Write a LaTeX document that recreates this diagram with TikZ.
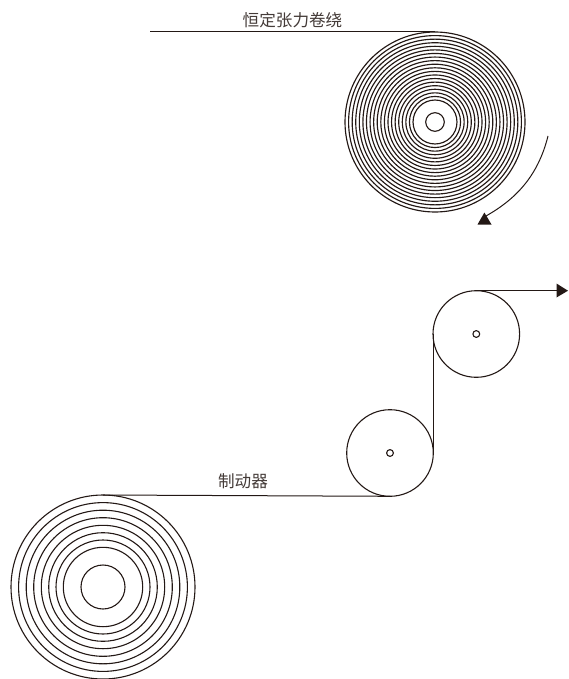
\documentclass[tikz,border=0pt]{standalone}
\usepackage{fontspec}
\newfontfamily\cjk{Noto Sans CJK SC}
\usetikzlibrary{calc}
\definecolor{ink}{HTML}{231815}
\tikzset{
  x=1pt,y=-1pt,
  ring/.style={circle,draw=ink,line width=#1,inner sep=0pt,outer sep=0pt,fill=none},
  ring/.default=1.1pt,
  web/.style={draw=ink,line width=1pt},
  label/.style={font=\cjk\fontsize{16.6}{17}\selectfont,text=ink!85!white,inner sep=0pt},
  tip/.style={fill=ink,draw=none}
}
\begin{document}
\begin{tikzpicture}
\useasboundingbox (0,0) rectangle (568,679);
% top (wind-up) reel
\coordinate (topc) at (435,122);
\foreach \i in {0,...,19}{
  \node[ring=1.15pt,minimum size={2*(90-3.58*\i)*1pt}] at (topc) {};
}
\node[ring,minimum size=18.6pt] (topcore) at (topc) {};
\node[ring=0pt,draw=none,minimum size=180pt] (topreel) at (topc) {};
\coordinate (topstart) at (150,32);
\draw[web] (topstart) -- (topreel.north);
\node[label] (toplabel) at (292.5,20) {恒定张力卷绕};
% rotation arrow
\coordinate (rotstart) at (548,136);
\coordinate (rotend) at (486,216);
\draw[web] (rotstart) .. controls (538,176) and (516,199) .. (rotend);
\fill[tip] (477.5,224.5) -- (491.5,224.5) -- (484.4,212.5) -- cycle;
% rollers
\node[ring,minimum size=86.6pt] (upper) at (476.3,334) {};
\node[ring,minimum size=6.8pt] (upperaxis) at (476.3,334) {};
\node[ring,minimum size=86.6pt] (lower) at (390,453) {};
\node[ring,minimum size=6.8pt] (loweraxis) at (390,453) {};
\draw[web] (lower.east) -- (lower.east |- upper.west);
% supply reel
\coordinate (botc) at (103,587);
\foreach \r in {92,84.4,76.8,69.3,61.7,54.3,47,39.7}{
  \node[ring,minimum size={2*\r*1pt}] at (botc) {};
}
\node[ring,minimum size=44pt] (botcore) at (botc) {};
\node[ring=0pt,draw=none,minimum size=184pt] (botreel) at (botc) {};
\draw[web] (botreel.north) -- (lower.south);
\node[label] (botlabel) at (243,481.5) {制动器};
% exit arrow
\coordinate (exit) at (557,290.7);
\draw[web] (upper.north) -- (exit);
\fill[tip] (556.5,283.5) -- (568,290.7) -- (556.5,297.5) -- cycle;
\end{tikzpicture}
\end{document}
